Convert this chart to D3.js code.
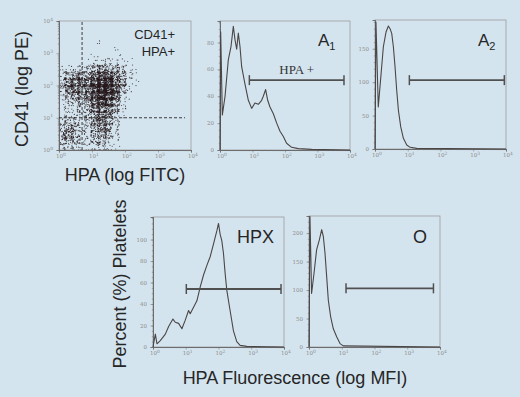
<!DOCTYPE html>
<html>
<head>
<meta charset="utf-8">
<script src="https://cdn.jsdelivr.net/npm/d3@7"></script>
<style>
body { margin: 0; background: #d4e4ee; }
svg { display: block; font-family: "Liberation Sans", Arial, sans-serif; }
</style>
</head>
<body>
<svg id="fig" width="520" height="397"></svg>
<script>
// ---- data ----
var decades = [1, 10, 100, 1000, 10000];
var decadeExp = ['0', '1', '2', '3', '4'];

// scatter gates (log FITC / log PE)
var hpaGate = 5;
var cd41Gate = 10;

// scatter density: relative events per 0.2-decade cell, rows from top (10^4) to bottom (10^0), cols from 10^0
var dotGrid = [
    [0,0,0,0,0,0,0,0,0,0,0,0],
    [0,0,0,0,0,0,0,0,0,0,0,0],
    [0,0,0,0,0,0,0,0,0,0,0,0],
    [0,0,0,0,0,0,1,0,0,0,0,0],
    [0,0,0,0,0,0,0,0,1,0,0,0],
    [0,0,0,0,0,1,0,1,0,1,0,0],
    [0,0,0,0,1,2,3,3,2,2,1,0],
    [1,2,3,4,6,10,12,10,8,6,2,1],
    [4,10,14,12,14,22,28,24,16,10,3,0],
    [6,16,20,16,18,30,38,34,22,10,2,1],
    [6,14,18,14,18,30,40,38,24,8,2,0],
    [4,10,12,10,16,28,38,36,22,5,1,0],
    [2,5,6,6,12,22,30,28,14,3,0,0],
    [1,2,3,4,8,16,20,18,8,2,0,0],
    [1,2,2,3,6,12,16,14,6,1,0,0],
    [3,5,4,2,5,12,16,12,4,0,0,0],
    [6,10,8,2,4,10,14,10,3,0,0,0],
    [8,12,9,2,3,8,10,8,2,0,0,0],
    [7,10,7,2,3,6,8,5,1,0,0,0],
    [4,5,4,2,2,4,4,3,1,0,0,0]
];

// histogram A1
var a1Mfi   = [1, 1.05, 1.18, 1.43, 1.8, 2.18, 2.57, 2.9, 3.26, 3.66, 4.12, 4.64, 5.87, 7.45, 9.42, 11.9, 15.1, 19.1, 21.5, 25.4, 29.3, 34.5, 43.8, 55.5, 70.2, 88.9, 112, 160, 257, 661, 10000];
var a1Count = [0, 88, 26, 40, 67, 77, 92, 82, 75, 87, 77, 62, 49, 37, 31, 35, 34, 37, 40, 45, 37, 32, 27, 20, 14, 10, 5, 2, 1, 0.5, 0];
var a1Gate  = [8, 6530];

// histogram A2
var a2Mfi   = [1, 1.07, 1.26, 1.6, 1.8, 2.17, 2.56, 2.88, 3.24, 3.64, 4.09, 4.6, 5.18, 6.11, 7.36, 9.31, 11.8, 18.9, 10000];
var a2Count = [0, 190, 63, 123, 153, 175, 184, 180, 173, 153, 123, 88, 58, 33, 16, 6, 2.5, 1, 0];
var a2Gate  = [11.2, 8890];

// histogram HPX
var hpxMfi   = [1, 1.18, 1.32, 1.67, 2.38, 3.0, 4.06, 4.79, 6.05, 7.64, 9.66, 12.2, 13.7, 17.3, 21.9, 27.7, 34.9, 44.2, 55.7, 70.5, 88.9, 100, 112, 126, 142, 160, 179, 226, 286, 361, 457, 730, 10000];
var hpxCount = [0, 12, 3, 6, 12, 19, 26, 23, 22, 17, 25, 34, 31, 37, 43, 56, 67, 76, 84, 96, 108, 115, 105, 99, 87, 68, 53, 34, 15, 5, 1.5, 0.6, 0];
var hpxGate  = [10.4, 8110];

// histogram O
var oMfi   = [1, 1.07, 1.2, 1.42, 1.71, 2.07, 2.44, 2.74, 3.08, 3.46, 3.89, 4.59, 5.53, 7.0, 8.85, 11.2, 10000];
var oCount = [0, 229, 94, 129, 171, 188, 206, 194, 165, 124, 82, 53, 32, 18, 6, 2, 0];
var oGate  = [13.5, 6310];


var svg = d3.select('#fig');
var ink = '#262626';

function minorTicks() {
    var out = [];
    for (var k = 0; k < 4; k++)
        for (var m = 2; m < 10; m++) out.push(m * Math.pow(10, k));
    return out;
}

function decadeLabel(sel) {
    sel.each(function(d, i) {
        var t = d3.select(this);
        t.append('tspan').text('10');
        t.append('tspan').attr('dy', -2.5).attr('font-size', 4.5).text(decadeExp[i]);
    });
}

function logAxes(g, x, y, x0, x1, y0, y1, yTicks, yMinor, yLog) {
    g.append('rect')
        .attr('x', x0).attr('y', y0)
        .attr('width', x1 - x0).attr('height', y1 - y0)
        .attr('fill', 'none')
        .attr('stroke', '#9b9b9b')
        .attr('stroke-width', 0.8);

    var xa = g.append('g').attr('transform', 'translate(0,' + y1 + ')');
    xa.call(d3.axisBottom(x).tickValues(decades).tickSize(2.5).tickFormat(''));
    xa.append('g').call(d3.axisBottom(x).tickValues(minorTicks()).tickSize(1.2).tickFormat(''));
    xa.selectAll('.domain').attr('stroke', '#6a6a6a').attr('stroke-width', 0.9);
    xa.selectAll('line').attr('stroke', '#7a7a7a').attr('stroke-width', 0.6);

    g.selectAll('.xlab')
        .data(decades)
        .enter()
        .append('text')
            .attr('x', d => x(d) - 3)
            .attr('y', y1 + 8)
            .attr('font-size', 5.5)
            .attr('font-family', 'DejaVu Serif, serif')
            .attr('fill', '#8c8c8c')
            .call(decadeLabel);

    var ya = g.append('g').attr('transform', 'translate(' + x0 + ',0)');
    ya.call(d3.axisLeft(y).tickValues(yTicks).tickSize(2.5).tickFormat(''));
    ya.append('g').call(d3.axisLeft(y).tickValues(yMinor).tickSize(1.2).tickFormat(''));
    ya.selectAll('.domain').attr('stroke', '#6a6a6a').attr('stroke-width', 0.9);
    ya.selectAll('line').attr('stroke', '#7a7a7a').attr('stroke-width', 0.6);

    var yl = g.selectAll('.ylab')
        .data(yTicks)
        .enter()
        .append('text')
            .attr('x', x0 - 6)
            .attr('y', d => y(d) + 2)
            .attr('text-anchor', 'end')
            .attr('font-size', 5.5)
            .attr('font-family', 'DejaVu Serif, serif')
            .attr('fill', '#8c8c8c');
    if (yLog) yl.call(decadeLabel);
    else yl.text(d => d);
}


// ---------- scatter: CD41 vs HPA ----------
function drawScatter() {
    var x0 = 59, x1 = 191, y0 = 21, y1 = 150;
    var sx = d3.scaleLog().domain([1, 1e4]).range([x0, x1]);
    var sy = d3.scaleLog().domain([1, 1e4]).range([y1, y0]);
    var g = svg.append('g');
    var dotsPerUnit = 3;

    // fixed integer hash, only used to place a cell's events inside that cell
    function spread(i, s) {
        var h = Math.imul(i ^ Math.imul(s, 0x9e3779b9), 0x85ebca6b);
        h ^= h >>> 13;
        h = Math.imul(h, 0xc2b2ae35);
        h ^= h >>> 16;
        return (h >>> 0) / 4294967296;
    }
    var dots = [];
    var k = 1;
    dotGrid.forEach(function(row, r) {
        row.forEach(function(n, c) {
            for (var j = 0; j < n * dotsPerUnit; j++, k++) {
                dots.push({
                    lx: Math.max(0.01, (c - 0.2 + 1.4 * spread(k, 1)) * 0.2),
                    ly: Math.max(0.01, 4 - (r - 0.2 + 1.4 * spread(k, 2)) * 0.2)
                });
            }
        });
    });

    g.selectAll('.dot')
        .data(dots)
        .enter()
        .append('circle')
            .attr('class', 'dot')
            .attr('cx', d => sx(Math.pow(10, d.lx)))
            .attr('cy', d => sy(Math.pow(10, d.ly)))
            .attr('r', 0.55)
            .attr('fill', '#24181a')
            .attr('opacity', 0.85);

    logAxes(g, sx, sy, x0, x1, y0, y1, decades, minorTicks(), true);

    g.append('line')
        .attr('x1', sx(hpaGate)).attr('x2', sx(hpaGate))
        .attr('y1', y1).attr('y2', y0)
        .attr('stroke', '#2a2a2a').attr('stroke-width', 0.9)
        .attr('stroke-dasharray', '3,2');
    g.append('line')
        .attr('x1', x0).attr('x2', sx(6600))
        .attr('y1', sy(cd41Gate)).attr('y2', sy(cd41Gate))
        .attr('stroke', '#2a2a2a').attr('stroke-width', 0.9)
        .attr('stroke-dasharray', '3,2');

    g.append('text').attr('x', 175).attr('y', 39).attr('text-anchor', 'end')
        .attr('font-size', 13).attr('fill', ink).text('CD41+');
    g.append('text').attr('x', 175).attr('y', 56).attr('text-anchor', 'end')
        .attr('font-size', 13).attr('fill', ink).text('HPA+');

    svg.append('text')
        .attr('transform', 'translate(28,89) rotate(-90)')
        .attr('text-anchor', 'middle')
        .attr('font-size', 18).attr('fill', ink)
        .text('CD41 (log PE)');
    svg.append('text')
        .attr('x', 125).attr('y', 181)
        .attr('text-anchor', 'middle')
        .attr('font-size', 18).attr('fill', ink)
        .text('HPA (log FITC)');
}


// ---------- histograms ----------
function drawHist(p) {
    var x = d3.scaleLog().domain([1, 1e4]).range([p.x0, p.x1]);
    var y = d3.scaleLinear().domain([0, p.yMax]).range([p.y1, p.y0]);
    var g = svg.append('g');

    logAxes(g, x, y, p.x0, p.x1, p.y0, p.y1, p.yTicks, d3.range(0, p.yMax, p.yMinor), false);

    var line = d3.line()
        .x(d => x(d[0]))
        .y(d => y(d[1]));

    g.append('path')
        .datum(d3.zip(p.mfi, p.count))
        .attr('d', line)
        .attr('fill', 'none')
        .attr('stroke', '#4a4646')
        .attr('stroke-width', 1.1)
        .attr('stroke-linejoin', 'round');

    // gate marker
    var gy = y(p.gateY);
    g.append('line')
        .attr('x1', x(p.gate[0])).attr('x2', x(p.gate[1]))
        .attr('y1', gy).attr('y2', gy)
        .attr('stroke', '#505050').attr('stroke-width', 1.8);
    g.selectAll('.cap')
        .data(p.gate)
        .enter()
        .append('line')
            .attr('x1', d => x(d)).attr('x2', d => x(d))
            .attr('y1', gy - 5).attr('y2', gy + 5)
            .attr('stroke', '#505050').attr('stroke-width', 1.5);

    var lab = g.append('text')
        .attr('x', p.lx).attr('y', p.ly)
        .attr('font-size', p.lsize).attr('fill', ink);
    lab.append('tspan').text(p.label);
    if (p.sub) lab.append('tspan').attr('dy', 4).attr('font-size', 11).text(p.sub);

    if (p.gateText) {
        g.append('text')
            .attr('x', (x(p.gate[0]) + x(p.gate[1])) / 2)
            .attr('y', gy - 6)
            .attr('text-anchor', 'middle')
            .attr('font-family', '"Liberation Serif", "Times New Roman", serif')
            .attr('font-size', 13)
            .attr('fill', '#333')
            .text(p.gateText);
    }
}

drawScatter();

drawHist({ x0: 220, x1: 350, y0: 21, y1: 150, yMax: 96, yTicks: [0, 20, 40, 60, 80], yMinor: 5,
    mfi: a1Mfi, count: a1Count, gate: a1Gate, gateY: 52, gateText: 'HPA +',
    label: 'A', sub: '1', lx: 318, ly: 46, lsize: 17 });

drawHist({ x0: 375, x1: 506, y0: 20, y1: 149, yMax: 193, yTicks: [0, 50, 100, 150], yMinor: 10,
    mfi: a2Mfi, count: a2Count, gate: a2Gate, gateY: 103,
    label: 'A', sub: '2', lx: 478, ly: 46, lsize: 17 });

drawHist({ x0: 153, x1: 284, y0: 217, y1: 347, yMax: 121, yTicks: [0, 20, 40, 60, 80, 100], yMinor: 5,
    mfi: hpxMfi, count: hpxCount, gate: hpxGate, gateY: 54,
    label: 'HPX', lx: 237, ly: 243, lsize: 18 });

drawHist({ x0: 309, x1: 440, y0: 216, y1: 347, yMax: 230, yTicks: [0, 50, 100, 150, 200], yMinor: 10,
    mfi: oMfi, count: oCount, gate: oGate, gateY: 103,
    label: 'O', lx: 413, ly: 243, lsize: 18 });

svg.append('text')
    .attr('transform', 'translate(126,284) rotate(-90)')
    .attr('text-anchor', 'middle')
    .attr('font-size', 18).attr('fill', ink)
    .text('Percent (%) Platelets');

svg.append('text')
    .attr('x', 295).attr('y', 384)
    .attr('text-anchor', 'middle')
    .attr('font-size', 18).attr('fill', ink)
    .text('HPA Fluorescence (log MFI)');
</script>
</body>
</html>
